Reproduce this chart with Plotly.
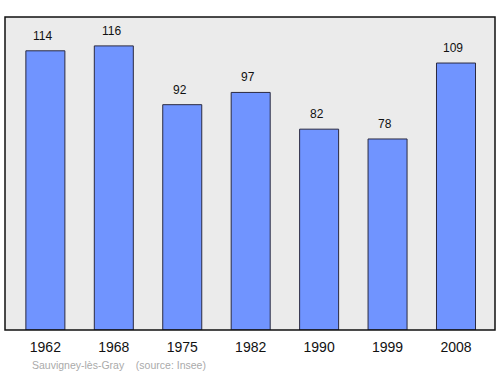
import plotly.graph_objects as go

years = ["1962", "1968", "1975", "1982", "1990", "1999", "2008"]
population = [114, 116, 92, 97, 82, 78, 109]

FONT = "Liberation Sans, Arial, sans-serif"

fig = go.Figure()
fig.add_trace(go.Bar(
    x=list(range(len(years))), y=population, width=0.57,
    marker=dict(color="#7094ff", line=dict(color="#2a2a40", width=1)),
    hoverinfo="y",
))
for i, v in enumerate(population):
    fig.add_annotation(x=i, y=v, text=str(v), showarrow=False, yshift=15, xshift=-2.5,
                       xref="x", yref="y",
                       font=dict(family=FONT, size=12, color="#111"))

fig.add_shape(type="rect", xref="paper", yref="paper", x0=0, y0=0, x1=1, y1=1,
              line=dict(color="#111", width=1.5), layer="above")

fig.add_annotation(xref="paper", yref="paper", x=0.05, y=-0.112, xanchor="left", yanchor="middle",
                   text="Sauvigney-lès-Gray    (source: Insee)", showarrow=False,
                   font=dict(family=FONT, size=10.5, color="#aaaaaa"))

fig.update_layout(
    width=500, height=374,
    margin=dict(l=5, r=5, t=17, b=44),
    paper_bgcolor="white", plot_bgcolor="#ebebeb",
    showlegend=False,
    xaxis=dict(range=[-0.59, 6.57], showgrid=False, zeroline=False,
               tickmode="array", tickvals=list(range(len(years))), ticktext=years,
               ticks="", ticklabelstandoff=7,
               tickfont=dict(family=FONT, size=14, color="#111")),
    yaxis=dict(range=[0, 127.8], showgrid=False, zeroline=False, showticklabels=False, ticks=""),
)
fig.write_html("out.html")
